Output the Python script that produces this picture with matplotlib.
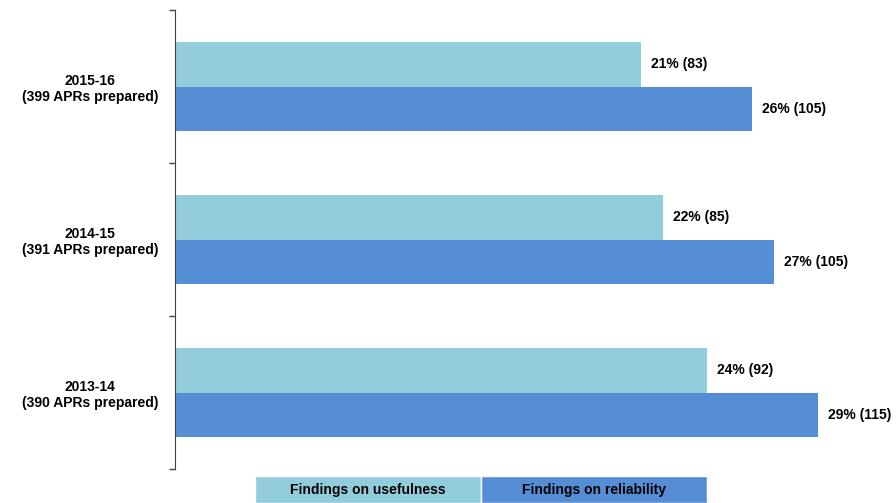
import matplotlib.pyplot as plt
from matplotlib.patches import Rectangle

plt.rcParams['font.family'] = ['Liberation Sans', 'DejaVu Sans']

years = ["2013-14\n(390 APRs prepared)", "2014-15\n(391 APRs prepared)", "2015-16\n(399 APRs prepared)"]
usefulness_pct = [24, 22, 21]
usefulness_n = [92, 85, 83]
reliability_pct = [29, 27, 26]
reliability_n = [115, 105, 105]

light = "#92CDDC"
dark = "#558ED5"

fig = plt.figure(figsize=(8.96, 5.03), dpi=100)
ax = fig.add_axes([175 / 896, 1 - 469 / 503, 1 - 175 / 896, 459 / 503])

h = 0.29
pos = range(len(years))
ax.barh([p + h / 2 for p in pos], usefulness_pct, height=h, color=light)
ax.barh([p - h / 2 for p in pos], reliability_pct, height=h, color=dark)

for p, v, n in zip(pos, usefulness_pct, usefulness_n):
    ax.annotate(f"{v}% ({n})", (v, p + h / 2), xytext=(7, 0), textcoords="offset points",
                va="center", ha="left", fontsize=10, fontweight="bold")
for p, v, n in zip(pos, reliability_pct, reliability_n):
    ax.annotate(f"{v}% ({n})", (v, p - h / 2), xytext=(7, 0), textcoords="offset points",
                va="center", ha="left", fontsize=10, fontweight="bold")

ax.set_xlim(0, 32.5)
ax.set_ylim(-0.5, 2.5)
ax.set_yticks(list(pos))
ax.set_yticklabels(years, fontsize=10, fontweight="bold", multialignment="center")
ax.tick_params(axis="y", which="major", length=0, pad=12)
ax.set_yticks([-0.5, 0.5, 1.5, 2.5], minor=True)
ax.tick_params(axis="y", which="minor", length=4.5, width=1, color="#404040")
ax.set_xticks([])
for s in ["top", "right", "bottom"]:
    ax.spines[s].set_visible(False)
ax.spines["left"].set_color("#404040")

# legend boxes at the bottom
for x0, col, lab in [(255, light, "Findings on usefulness"), (481, dark, "Findings on reliability")]:
    fig.patches.append(Rectangle((x0 / 896, 0), 226 / 896, 27 / 503, transform=fig.transFigure,
                                 facecolor=col, edgecolor="white", linewidth=1))
    fig.text((x0 + 113) / 896, 13 / 503, lab, ha="center", va="center",
             fontsize=10, fontweight="bold")

fig.savefig("out.png", dpi=100)
